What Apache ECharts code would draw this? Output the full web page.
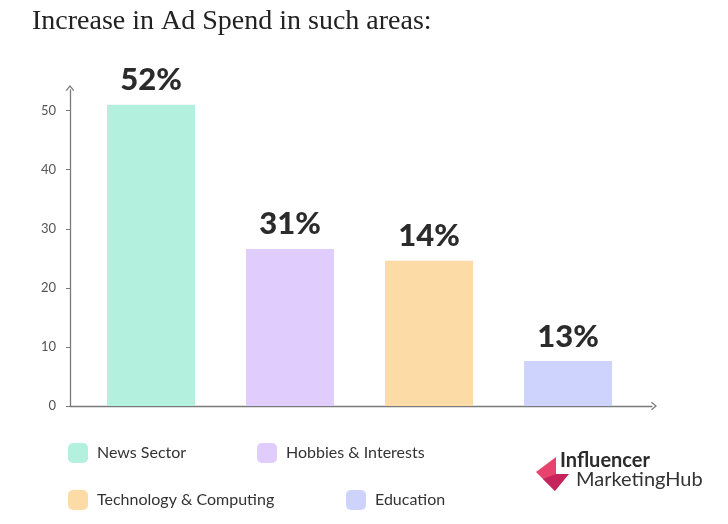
<!DOCTYPE html>
<html>
<head>
<meta charset="utf-8">
<script src="https://cdn.jsdelivr.net/npm/echarts@6/dist/echarts.min.js"></script>
<style>html,body{margin:0;padding:0;background:#fff}#c{width:728px;height:524px}</style>
</head>
<body>
<div id="c"></div>
<script>
const titleText = 'Increase in Ad Spend in such areas:';
const categories = ['News Sector', 'Hobbies & Interests', 'Technology & Computing', 'Education'];
const barHeights = [51, 26.6, 24.6, 7.6];
const barLabels = ['52%', '31%', '14%', '13%'];
const yTicks = [0, 10, 20, 30, 40, 50];
const colors = ['#b3f0de', '#e0ccfd', '#fddba6', '#cdd3fd'];

const arrow = 'path://M5,0 L10,6 L8.8,7 L5,2.2 L1.2,7 L0,6 Z';
const axisColor = '#7a7a7a';
const legendPos = [[68, 443], [257, 443], [68, 490], [346, 490]];

const chart = echarts.init(document.getElementById('c'), null, {renderer: 'canvas'});
chart.setOption({
  animation: false,
  backgroundColor: '#fff',
  title: {
    text: titleText, left: 32, top: 8, padding: 0,
    textStyle: {fontFamily: 'Liberation Serif', fontWeight: 'normal', fontSize: 28, color: '#222'}
  },
  legend: categories.map((c, i) => ({
    data: [c], left: legendPos[i][0], top: legendPos[i][1], padding: 0,
    itemWidth: 20, itemHeight: 20, icon: 'roundRect',
    textStyle: {fontFamily: 'Lato', fontSize: 16, color: '#333', padding: [0, 0, 0, 4]},
    selectedMode: false
  })),
  grid: {left: 70, right: 76, top: 90, bottom: 118, containLabel: false},
  xAxis: {
    type: 'value', min: 0.417, max: 4.604,
    axisLine: {show: true, lineStyle: {color: axisColor, width: 1.3}, symbol: ['none', arrow], symbolSize: [9, 6], symbolOffset: [0, 2]},
    axisTick: {show: false}, axisLabel: {show: false}, splitLine: {show: false}
  },
  yAxis: {
    type: 'value', min: 0, max: 53.5,
    axisLine: {show: true, lineStyle: {color: axisColor, width: 1.3}, symbol: ['none', arrow], symbolSize: [9, 6], symbolOffset: [0, 2]},
    axisTick: {show: true, length: 4, lineStyle: {color: axisColor}, customValues: yTicks},
    axisLabel: {customValues: yTicks, margin: 14, fontFamily: 'Lato', fontSize: 13, color: '#555', padding: [0, 0, 8, 0]},
    splitLine: {show: false}
  },
  series: categories.map((c, i) => ({
    name: c, type: 'bar', barWidth: 88, barGap: '-100%',
    itemStyle: {color: colors[i]},
    data: [[i + 1, barHeights[i]]],
    label: {
      show: true, position: 'top', distance: 9,
      formatter: () => barLabels[i],
      fontFamily: 'Lato', fontWeight: 900, fontSize: 31, color: '#2b2b2b'
    }
  })),
  graphic: [
    {type: 'polygon', shape: {points: [[556, 457], [536, 472], [555, 491], [556, 474]]}, style: {fill: '#e8436f'}},
    {type: 'polygon', shape: {points: [[556, 474], [569, 474], [555, 491], [543, 479]]}, style: {fill: '#c4245b'}},
    {type: 'text', left: 560, top: 451, style: {text: 'Influencer', fontFamily: 'Lato', fontWeight: 'bold', fontSize: 20, fill: '#2b2b2b'}},
    {type: 'text', left: 576, top: 470, style: {text: 'MarketingHub', fontFamily: 'Lato', fontWeight: 'normal', fontSize: 20, fill: '#333'}}
  ]
});
</script>
</body>
</html>
